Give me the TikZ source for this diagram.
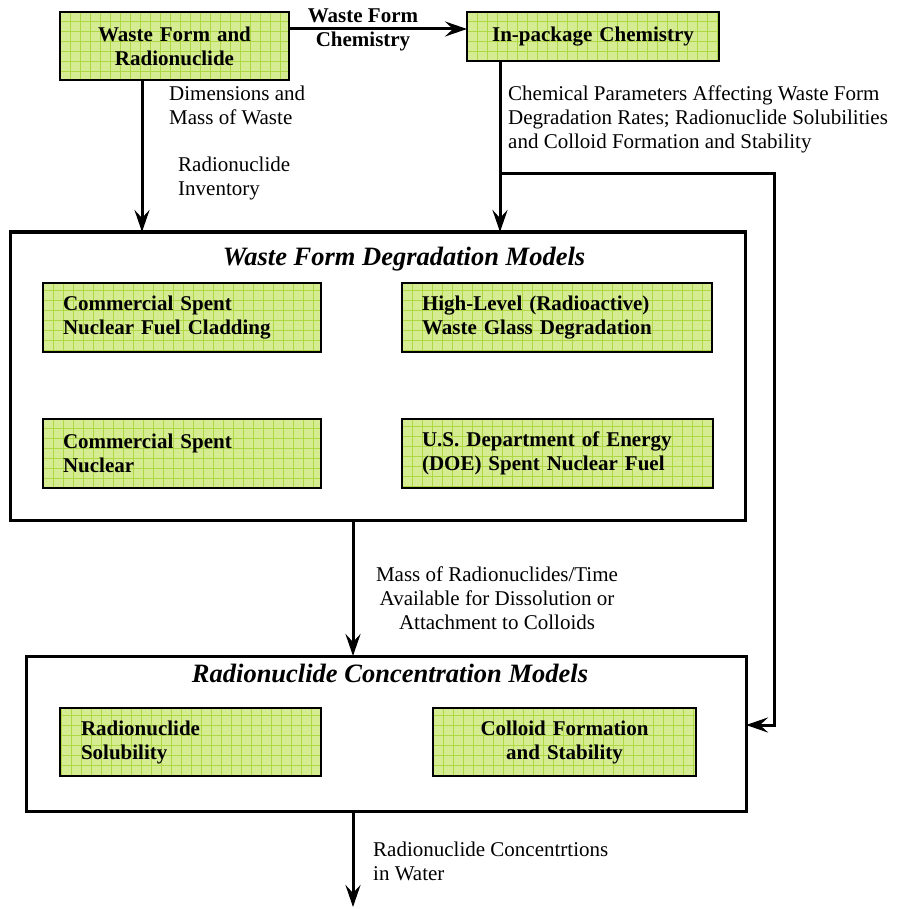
\documentclass[tikz,border=0pt]{standalone}
\usepackage{fontspec}
\setmainfont{Liberation Serif}
\usetikzlibrary{positioning,arrows.meta,calc}
\definecolor{wfgreen}{HTML}{D5EC92}
\definecolor{wfgrid}{HTML}{AFD846}

\begin{document}
\begin{tikzpicture}[x=1pt, y=-1pt,
  greenbox/.style={draw, line width=1.8pt, fill=wfgreen, outer sep=0pt, inner ysep=0pt, anchor=north west,
    font=\fontsize{21}{24}\selectfont\bfseries,
    path picture={\draw[wfgrid, line width=0.7pt] (path picture bounding box.south west) grid[step=10pt] (path picture bounding box.north east);}},
  modelbox/.style={draw, line width=3pt, outer sep=0pt, inner sep=0pt, anchor=north west},
  boxtitle/.style={font=\fontsize{26.5}{30}\selectfont\bfseries\itshape, inner sep=0pt, anchor=north},
  flowlabel/.style={font=\fontsize{21}{24}\selectfont, inner sep=0pt, anchor=north west, align=left},
  flow/.style={-{Stealth[length=22pt, width=15pt, inset=8pt]}, line width=3pt}]
 \useasboundingbox (0,0) rectangle (896,909);
 \node[greenbox, minimum width=229, minimum height=68, text width=209, align=center] (wfrad) at (60,12) {Waste Form and\\Radionuclide};
 \node[greenbox, minimum width=252, minimum height=49, text width=232, align=center] (inpkg) at (467,12) {In-package Chemistry};
 \node[modelbox, minimum width=735, minimum height=288] (wfdeg) at (10,232) {};
 \node[boxtitle] (wfdegtitle) at (404,247) {Waste Form Degradation Models};
 \node[greenbox, minimum width=278, minimum height=69, inner xsep=20, text width=238, align=left] (cladding) at (43,283) {Commercial Spent\\Nuclear Fuel Cladding};
 \node[greenbox, minimum width=310, minimum height=69, inner xsep=20, text width=270, align=left] (hlwglass) at (402,283) {High-Level (Radioactive)\\Waste Glass Degradation};
 \node[greenbox, minimum width=278, minimum height=69, inner xsep=20, text width=238, align=left] (csnf) at (43,419) {Commercial Spent\\Nuclear};
 \node[greenbox, minimum width=311, minimum height=69, inner xsep=20, text width=271, align=left] (doesnf) at (402,419) {U.S. Department of Energy\\(DOE) Spent Nuclear Fuel};
 \node[modelbox, minimum width=720, minimum height=155] (rncon) at (26,656) {};
 \node[boxtitle] (rncontitle) at (390,664) {Radionuclide Concentration Models};
 \node[greenbox, minimum width=261, minimum height=68, inner xsep=21, text width=219, align=left] (solub) at (60,708) {Radionuclide\\Solubility};
 \node[greenbox, minimum width=263, minimum height=68, text width=243, align=center] (colloid) at (433,708) {Colloid Formation\\and Stability};

 \coordinate (chemrow) at (0,29);
 \coordinate (invx) at (142,0);
 \coordinate (chemx) at (500,0);
 \coordinate (split) at (500,174);
 \coordinate (bend) at (774,725);
 \coordinate (massx) at (353,0);
 \coordinate (outlet) at (353,907);

 \draw[flow] (wfrad.east |- chemrow) -- (inpkg.west |- chemrow);
 \node[font=\fontsize{21}{24}\selectfont\bfseries, inner sep=0pt, align=center] (wfchem) at (363,30) {Waste Form\\Chemistry};
 \draw[flow] (invx |- wfrad.south) -- (invx |- wfdeg.north);
 \draw[flow] (chemx |- inpkg.south) -- (chemx |- wfdeg.north);
 \draw[flow] (split) -| (bend) -- (rncon.east |- bend);
 \draw[flow] (massx |- wfdeg.south) -- (massx |- rncon.north);
 \draw[flow] (massx |- rncon.south) -- (outlet);

 \node[flowlabel] (dimlabel) at (169,86) {Dimensions and\\Mass of Waste};
 \node[flowlabel] (invlabel) at (178,157) {Radionuclide\\Inventory};
 \node[flowlabel] (chemlabel) at (508,86) {Chemical Parameters Affecting Waste Form\\Degradation Rates; Radionuclide Solubilities\\and Colloid Formation and Stability};
 \node[flowlabel, anchor=north, align=center] (masslabel) at (497,567) {Mass of Radionuclides/Time\\Available for Dissolution or\\Attachment to Colloids};
 \node[flowlabel] (outlabel) at (373,842) {Radionuclide Concentrtions\\in Water};
\end{tikzpicture}
\end{document}
